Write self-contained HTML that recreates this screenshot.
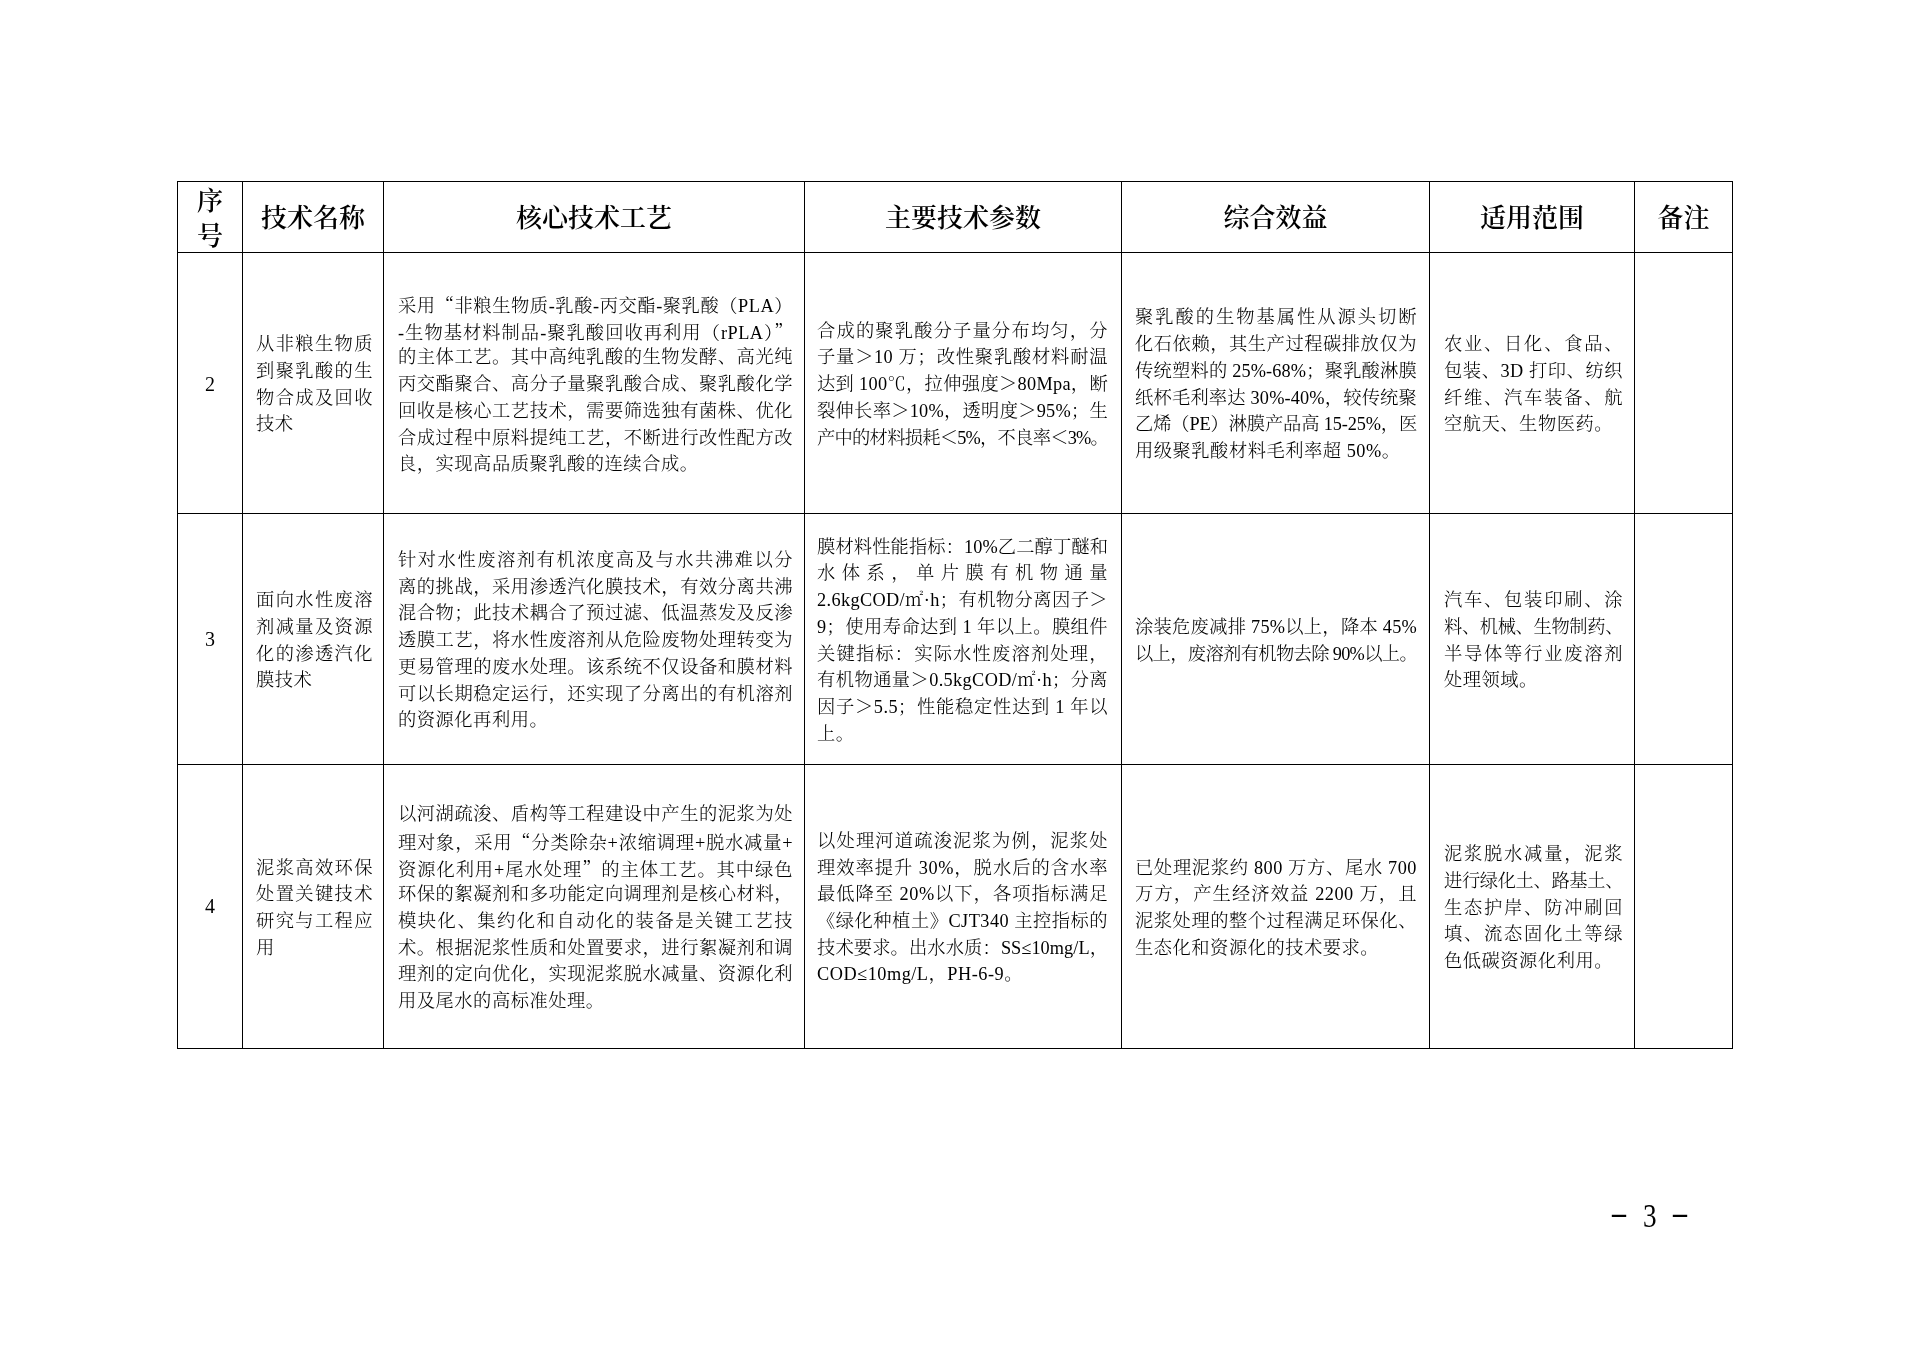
<!DOCTYPE html>
<html lang="zh-CN">
<head>
<meta charset="utf-8">
<title>3</title>
<style>
html,body{margin:0;padding:0;background:#fff;}
body{width:1920px;height:1357px;position:relative;overflow:hidden;
  font-family:"Liberation Serif","Noto Serif CJK SC",serif;color:#000;}
.h,.v{position:absolute;background:#000;}
.h{height:1px;left:177px;width:1556px;}
.v{width:1px;top:181px;height:868px;}
.c{position:absolute;display:flex;flex-direction:column;justify-content:center;}
.c div{white-space:nowrap;text-align:justify;text-align-last:justify;height:26.7px;line-height:26.7px;font-size:18.3px;font-weight:300;letter-spacing:0.5px;}
.c div.e{text-align-last:left;}
.c,.hd,.num,.pg{will-change:transform;}
.q{font-family:"Noto Serif CJK SC",serif;}
.hd{position:absolute;top:183px;height:71px;display:flex;align-items:center;justify-content:center;
  font-family:"Liberation Serif","Noto Serif CJK SC",serif;font-weight:600;font-size:26px;line-height:35px;}
.num{position:absolute;left:177px;width:66px;display:flex;align-items:center;justify-content:center;font-size:20px;}
.pg{position:absolute;left:0;top:0;}
</style>
</head>
<body>

<div class="h" style="top:181px"></div>
<div class="h" style="top:252px"></div>
<div class="h" style="top:513px"></div>
<div class="h" style="top:764px"></div>
<div class="h" style="top:1048px"></div>
<div class="v" style="left:177px"></div>
<div class="v" style="left:242px"></div>
<div class="v" style="left:383px"></div>
<div class="v" style="left:804px"></div>
<div class="v" style="left:1121px"></div>
<div class="v" style="left:1429px"></div>
<div class="v" style="left:1634px"></div>
<div class="v" style="left:1732px"></div>
<div class="hd" style="left:177px;width:66px;flex-direction:column;">序<br>号</div>
<div class="hd" style="left:242px;width:142px;">技术名称</div>
<div class="hd" style="left:383px;width:422px;">核心技术工艺</div>
<div class="hd" style="left:804px;width:318px;">主要技术参数</div>
<div class="hd" style="left:1121px;width:309px;">综合效益</div>
<div class="hd" style="left:1429px;width:206px;">适用范围</div>
<div class="hd" style="left:1634px;width:99px;">备注</div>
<div class="num" style="top:254px;height:261px;">2</div>
<div class="c" style="left:256px;width:117px;top:253.5px;height:261px;">
<div>从非粮生物质</div>
<div>到聚乳酸的生</div>
<div>物合成及回收</div>
<div class="e">技术</div>
</div>
<div class="c" style="left:398px;width:395px;top:253.5px;height:261px;">
<div>采用<span class="q">“</span>非粮生物质-乳酸-丙交酯-聚乳酸（PLA）</div>
<div>-生物基材料制品-聚乳酸回收再利用（rPLA）<span class="q">”</span></div>
<div>的主体工艺。其中高纯乳酸的生物发酵、高光纯</div>
<div>丙交酯聚合、高分子量聚乳酸合成、聚乳酸化学</div>
<div>回收是核心工艺技术，需要筛选独有菌株、优化</div>
<div>合成过程中原料提纯工艺，不断进行改性配方改</div>
<div class="e">良，实现高品质聚乳酸的连续合成。</div>
</div>
<div class="c" style="left:817px;width:291px;top:253.5px;height:261px;">
<div>合成的聚乳酸分子量分布均匀，分</div>
<div>子量＞10 万；改性聚乳酸材料耐温</div>
<div style="letter-spacing:0.275px">达到 100℃，拉伸强度＞80Mpa，断</div>
<div style="letter-spacing:0.225px">裂伸长率＞10%，透明度＞95%；生</div>
<div style="letter-spacing:-0.79px">产中的材料损耗＜5%，不良率＜3%。</div>
</div>
<div class="c" style="left:1135px;width:282px;top:253.5px;height:261px;">
<div>聚乳酸的生物基属性从源头切断</div>
<div>化石依赖，其生产过程碳排放仅为</div>
<div style="letter-spacing:0.139px">传统塑料的 25%-68%；聚乳酸淋膜</div>
<div style="letter-spacing:0.139px">纸杯毛利率达 30%-40%，较传统聚</div>
<div style="letter-spacing:-0.175px">乙烯（PE）淋膜产品高 15-25%，医</div>
<div class="e">用级聚乳酸材料毛利率超 50%。</div>
</div>
<div class="c" style="left:1444px;width:179px;top:253.5px;height:261px;">
<div>农业、日化、食品、</div>
<div>包装、3D 打印、纺织</div>
<div>纤维、汽车装备、航</div>
<div class="e">空航天、生物医药。</div>
</div>
<div class="num" style="top:514px;height:251px;">3</div>
<div class="c" style="left:256px;width:117px;top:514.5px;height:251px;">
<div>面向水性废溶</div>
<div>剂减量及资源</div>
<div>化的渗透汽化</div>
<div class="e">膜技术</div>
</div>
<div class="c" style="left:398px;width:395px;top:514.5px;height:251px;">
<div>针对水性废溶剂有机浓度高及与水共沸难以分</div>
<div>离的挑战，采用渗透汽化膜技术，有效分离共沸</div>
<div>混合物；此技术耦合了预过滤、低温蒸发及反渗</div>
<div>透膜工艺，将水性废溶剂从危险废物处理转变为</div>
<div>更易管理的废水处理。该系统不仅设备和膜材料</div>
<div>可以长期稳定运行，还实现了分离出的有机溶剂</div>
<div class="e">的资源化再利用。</div>
</div>
<div class="c" style="left:817px;width:291px;top:514.5px;height:251px;">
<div style="letter-spacing:0.061px">膜材料性能指标：10%乙二醇丁醚和</div>
<div>水体系，单片膜有机物通量</div>
<div style="letter-spacing:0.358px">2.6kgCOD/㎡·h；有机物分离因子＞</div>
<div style="letter-spacing:0.394px">9；使用寿命达到 1 年以上。膜组件</div>
<div>关键指标：实际水性废溶剂处理，</div>
<div style="letter-spacing:0.358px">有机物通量＞0.5kgCOD/㎡·h；分离</div>
<div>因子＞5.5；性能稳定性达到 1 年以</div>
<div class="e">上。</div>
</div>
<div class="c" style="left:1135px;width:282px;top:514.5px;height:251px;">
<div style="letter-spacing:0.219px">涂装危废减排 75%以上，降本 45%</div>
<div style="letter-spacing:-0.698px">以上，废溶剂有机物去除 90%以上。</div>
</div>
<div class="c" style="left:1444px;width:179px;top:514.5px;height:251px;">
<div>汽车、包装印刷、涂</div>
<div style="letter-spacing:-0.411px">料、机械、生物制药、</div>
<div>半导体等行业废溶剂</div>
<div class="e">处理领域。</div>
</div>
<div class="num" style="top:764px;height:284px;">4</div>
<div class="c" style="left:256px;width:117px;top:765.5px;height:284px;">
<div>泥浆高效环保</div>
<div>处置关键技术</div>
<div>研究与工程应</div>
<div class="e">用</div>
</div>
<div class="c" style="left:398px;width:395px;top:765.5px;height:284px;">
<div>以河湖疏浚、盾构等工程建设中产生的泥浆为处</div>
<div>理对象，采用<span class="q">“</span>分类除杂+浓缩调理+脱水减量+</div>
<div>资源化利用+尾水处理<span class="q">”</span>的主体工艺。其中绿色</div>
<div>环保的絮凝剂和多功能定向调理剂是核心材料，</div>
<div>模块化、集约化和自动化的装备是关键工艺技</div>
<div>术。根据泥浆性质和处置要求，进行絮凝剂和调</div>
<div>理剂的定向优化，实现泥浆脱水减量、资源化利</div>
<div class="e">用及尾水的高标准处理。</div>
</div>
<div class="c" style="left:817px;width:291px;top:765.5px;height:284px;">
<div>以处理河道疏浚泥浆为例，泥浆处</div>
<div>理效率提升 30%，脱水后的含水率</div>
<div>最低降至 20%以下，各项指标满足</div>
<div style="letter-spacing:0.452px">《绿化种植土》CJT340 主控指标的</div>
<div style="letter-spacing:0.052px">技术要求。出水水质：SS≤10mg/L，</div>
<div class="e">COD≤10mg/L，PH-6-9。</div>
</div>
<div class="c" style="left:1135px;width:282px;top:765.5px;height:284px;">
<div>已处理泥浆约 800 万方、尾水 700</div>
<div>万方，产生经济效益 2200 万，且</div>
<div>泥浆处理的整个过程满足环保化、</div>
<div class="e">生态化和资源化的技术要求。</div>
</div>
<div class="c" style="left:1444px;width:179px;top:765.5px;height:284px;">
<div>泥浆脱水减量，泥浆</div>
<div style="letter-spacing:-0.411px">进行绿化土、路基土、</div>
<div>生态护岸、防冲刷回</div>
<div>填、流态固化土等绿</div>
<div class="e">色低碳资源化利用。</div>
</div>
<div class="pg"><span style="position:absolute;left:1612px;top:1192px;font-size:28px;line-height:40px;transform:scale(1.0,1.6);transform-origin:0 50%;">–</span><span style="position:absolute;left:1642.5px;top:1196px;font-size:34px;line-height:40px;transform:scale(0.8,1.0);transform-origin:0 50%;">3</span><span style="position:absolute;left:1673px;top:1192px;font-size:28px;line-height:40px;transform:scale(1.0,1.6);transform-origin:0 50%;">–</span></div>
</body>
</html>
